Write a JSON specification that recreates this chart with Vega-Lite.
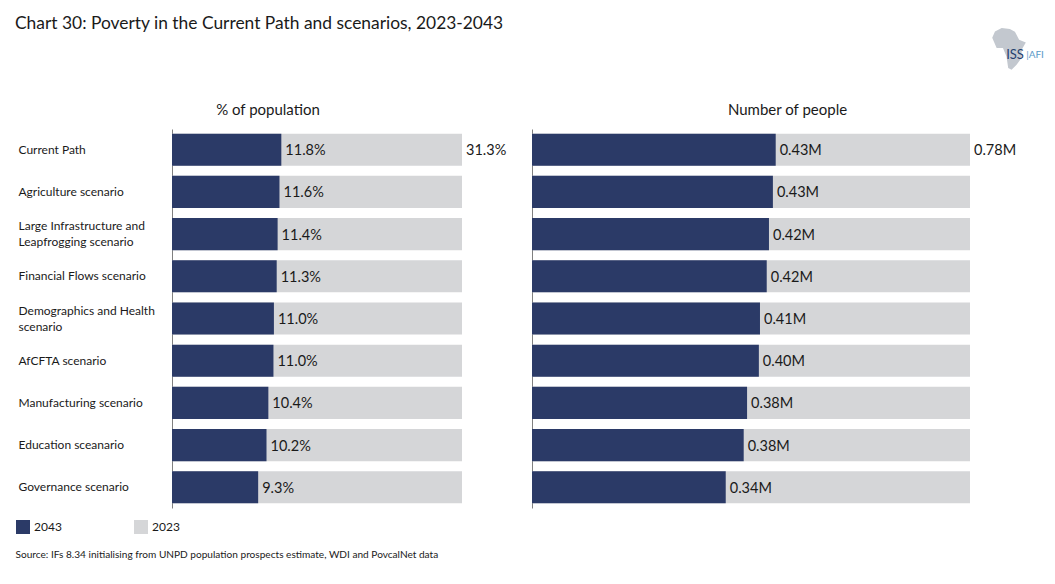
{
"$schema":"https://vega.github.io/schema/vega-lite/v6.json",
"padding":{"left":15,"top":15,"right":0,"bottom":0},
"background":"white",
"title":{"text":"Chart 30: Poverty in the Current Path and scenarios, 2023-2043","anchor":"start","frame":"bounds","fontSize":17.4,"fontWeight":"normal","font":"Lato","color":"#1a1a1a","offset":-5},
"config":{"view":{"stroke":null},"font":"Lato","text":{"font":"Lato"}},
"datasets":{"rows":[
{"scenario":"Current Path","year":"2023","measure":"pct","value":31.3,"label":"31.3%"},
{"scenario":"Agriculture scenario","year":"2023","measure":"pct","value":31.3},
{"scenario":"Large Infrastructure and|Leapfrogging scenario","year":"2023","measure":"pct","value":31.3},
{"scenario":"Financial Flows scenario","year":"2023","measure":"pct","value":31.3},
{"scenario":"Demographics and Health|scenario","year":"2023","measure":"pct","value":31.3},
{"scenario":"AfCFTA scenario","year":"2023","measure":"pct","value":31.3},
{"scenario":"Manufacturing scenario","year":"2023","measure":"pct","value":31.3},
{"scenario":"Education sceanario","year":"2023","measure":"pct","value":31.3},
{"scenario":"Governance scenario","year":"2023","measure":"pct","value":31.3},
{"scenario":"Current Path","year":"2043","measure":"pct","value":11.8,"label":"11.8%"},
{"scenario":"Agriculture scenario","year":"2043","measure":"pct","value":11.6,"label":"11.6%"},
{"scenario":"Large Infrastructure and|Leapfrogging scenario","year":"2043","measure":"pct","value":11.4,"label":"11.4%"},
{"scenario":"Financial Flows scenario","year":"2043","measure":"pct","value":11.3,"label":"11.3%"},
{"scenario":"Demographics and Health|scenario","year":"2043","measure":"pct","value":11.0,"label":"11.0%"},
{"scenario":"AfCFTA scenario","year":"2043","measure":"pct","value":10.95,"label":"11.0%"},
{"scenario":"Manufacturing scenario","year":"2043","measure":"pct","value":10.4,"label":"10.4%"},
{"scenario":"Education sceanario","year":"2043","measure":"pct","value":10.2,"label":"10.2%"},
{"scenario":"Governance scenario","year":"2043","measure":"pct","value":9.3,"label":"9.3%"},
{"scenario":"Current Path","year":"2023","measure":"people","value":0.78,"label":"0.78M"},
{"scenario":"Agriculture scenario","year":"2023","measure":"people","value":0.78},
{"scenario":"Large Infrastructure and|Leapfrogging scenario","year":"2023","measure":"people","value":0.78},
{"scenario":"Financial Flows scenario","year":"2023","measure":"people","value":0.78},
{"scenario":"Demographics and Health|scenario","year":"2023","measure":"people","value":0.78},
{"scenario":"AfCFTA scenario","year":"2023","measure":"people","value":0.78},
{"scenario":"Manufacturing scenario","year":"2023","measure":"people","value":0.78},
{"scenario":"Education sceanario","year":"2023","measure":"people","value":0.78},
{"scenario":"Governance scenario","year":"2023","measure":"people","value":0.78},
{"scenario":"Current Path","year":"2043","measure":"people","value":0.434,"label":"0.43M"},
{"scenario":"Agriculture scenario","year":"2043","measure":"people","value":0.429,"label":"0.43M"},
{"scenario":"Large Infrastructure and|Leapfrogging scenario","year":"2043","measure":"people","value":0.422,"label":"0.42M"},
{"scenario":"Financial Flows scenario","year":"2043","measure":"people","value":0.418,"label":"0.42M"},
{"scenario":"Demographics and Health|scenario","year":"2043","measure":"people","value":0.406,"label":"0.41M"},
{"scenario":"AfCFTA scenario","year":"2043","measure":"people","value":0.404,"label":"0.40M"},
{"scenario":"Manufacturing scenario","year":"2043","measure":"people","value":0.383,"label":"0.38M"},
{"scenario":"Education sceanario","year":"2043","measure":"people","value":0.377,"label":"0.38M"},
{"scenario":"Governance scenario","year":"2043","measure":"people","value":0.345,"label":"0.34M"}
]},
"data":{"name":"rows"},
"bounds":"flush",
"spacing":70,
"hconcat":[
{"width":290,"height":379,
"transform":[{"filter":"datum.measure==='pct'"}],
"encoding":{
 "y":{"field":"scenario","type":"nominal","sort":null,"scale":{"paddingInner":0.24,"paddingOuter":0.11},
  "axis":{"title":null,"ticks":false,"domainColor":"#808080","labelAlign":"left","labelPadding":154,"labelFontSize":12,"labelFont":"Lato","labelColor":"#1a1a1a","labelLimit":200,"labelLineHeight":16,"labelExpr":"split(datum.value,'|')","labelOffset":{"condition":{"test":"indexof(datum.value,'|')>=0","value":-8},"value":0}}}
},
"layer":[
 {"mark":{"type":"bar"},"encoding":{
   "x":{"field":"value","type":"quantitative","stack":null,"scale":{"domain":[0,31.3],"nice":false},
    "axis":{"labels":false,"ticks":false,"domain":false,"grid":false,"title":"Source: IFs 8.34 initialising from UNPD population prospects estimate, WDI and PovcalNet data","titleFontSize":10.1,"titleFontWeight":"normal","titleFont":"Lato","titleColor":"#1a1a1a","titleAlign":"left","titleAnchor":"start","titleX":-157,"titleY":41}},
   "color":{"field":"year","type":"nominal","scale":{"domain":["2043","2023"],"range":["#2b3a67","#d5d6d8"]},
   "legend":{"orient":"none","legendX":-156,"legendY":391,"title":null,"direction":"horizontal","symbolType":"square","symbolSize":196,"labelFontSize":12,"labelFont":"Lato","labelColor":"#1a1a1a","columnPadding":72,"symbolStrokeWidth":0,"symbolOpacity":1}}}},
 {"transform":[{"filter":"isValid(datum.label)"}],"mark":{"type":"text","align":"left","dx":4,"dy":1.5,"fontSize":14.5,"color":"#1a1a1a"},"encoding":{"x":{"field":"value","type":"quantitative"},"text":{"field":"label"}}},
 {"data":{"values":[{"heading":"% of population","pos":10.36,"anchor":"Current Path"}]},"mark":{"type":"text","align":"center","baseline":"middle","fontSize":15,"color":"#1a1a1a","yOffset":-40},"encoding":{"x":{"field":"pos","type":"quantitative"},"y":{"field":"anchor","type":"nominal","sort":null},"text":{"field":"heading"}}}
]},
{"width":438,"height":379,
"transform":[{"filter":"datum.measure==='people'"}],
"encoding":{
 "y":{"field":"scenario","type":"nominal","sort":null,"scale":{"paddingInner":0.24,"paddingOuter":0.11},
  "axis":{"title":null,"ticks":false,"labels":false,"domainColor":"#808080"}}
},
"layer":[
 {"mark":{"type":"bar"},"encoding":{"x":{"field":"value","type":"quantitative","stack":null,"scale":{"domain":[0,0.78],"nice":false},"axis":null},
   "color":{"field":"year","type":"nominal","scale":{"domain":["2043","2023"],"range":["#2b3a67","#d5d6d8"]},"legend":null}}},
 {"transform":[{"filter":"isValid(datum.label)"}],"mark":{"type":"text","align":"left","dx":4,"dy":1.5,"fontSize":14.5,"color":"#1a1a1a"},"encoding":{"x":{"field":"value","type":"quantitative"},"text":{"field":"label"}}},
 {"data":{"values":[{"heading":"Number of people","pos":0.455,"anchor":"Current Path"}]},"mark":{"type":"text","align":"center","baseline":"middle","fontSize":15,"color":"#1a1a1a","yOffset":-40},"encoding":{"x":{"field":"pos","type":"quantitative"},"y":{"field":"anchor","type":"nominal","sort":null},"text":{"field":"heading"}}},
 {"data":{"values":[{"pos":0.851,"anchor":"Current Path"}]},"mark":{"type":"point","shape":"M-.84,-.52L-.71,-.82L-.39,-.99L0,-.94L.24,-.81L.44,-.43L.76,-.30L.56,.05L.56,.43L.32,.76L.08,1L-.08,.92L-.16,.37L-.33,-.03L-.63,-.03Z","size":1764,"filled":true,"opacity":1,"color":"#c3c8cf","strokeWidth":0,"yOffset":-101},
  "encoding":{"x":{"field":"pos","type":"quantitative"},"y":{"field":"anchor","type":"nominal","sort":null}}},
 {"data":{"values":[{"pos":0.8444,"anchor":"Current Path","logo":"ISS"}]},"mark":{"type":"text","align":"left","baseline":"middle","fontSize":13,"font":"Lato","color":"#24406e","yOffset":-95},"encoding":{"x":{"field":"pos","type":"quantitative"},"y":{"field":"anchor","type":"nominal","sort":null},"text":{"field":"logo"}}},
 {"data":{"values":[{"pos":0.88,"anchor":"Current Path","logo":"|AFI"}]},"mark":{"type":"text","align":"left","baseline":"middle","fontSize":10,"font":"Lato","color":"#5b9bc8","yOffset":-95},"encoding":{"x":{"field":"pos","type":"quantitative"},"y":{"field":"anchor","type":"nominal","sort":null},"text":{"field":"logo"}}}
]}
],
"resolve":{"scale":{"x":"independent","y":"independent","color":"shared"}}
}
